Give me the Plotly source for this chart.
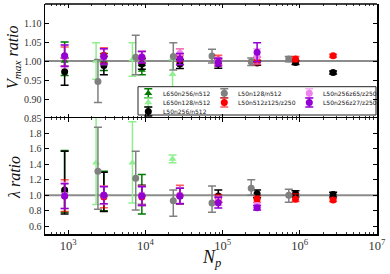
import plotly.graph_objects as go

# ---------------- data ----------------
series_names = ["L650n256/n512", "L650n128/n512", "L50n256/n512", "L50n128/n512",
                "L50n512z125/z250", "L50n256z65/z250", "L50n256z27/z250"]
series_colors = ["#007a00", "#90ee90", "#000000", "#808080", "#ff0000", "#ee82ee", "#9400d3"]
series_err_colors = ["#007a00", "#90ee90", "#000000", "#808080",
                     "rgba(255,0,0,0.65)", "rgba(238,130,238,0.65)", "#9400d3"]
series_symbols = ["triangle-up", "triangle-up", "circle", "circle", "circle", "circle", "circle"]

np_dg = [900, 2900, 9000]
vmax_dg = [1.000, 1.000, 0.976]
vmax_dg_up = [0.050, 0.020, 0.012]
vmax_dg_dn = [0.038, 0.025, 0.012]
lam_dg = [1.06, 1.00, 1.00]
lam_dg_up = [0.52, 0.31, 0.27]
lam_dg_dn = [0.28, 0.20, 0.24]

np_lg = [2300, 6800, 22500]
vmax_lg = [1.000, 1.004, 0.965]
vmax_lg_up = [0.048, 0.044, 0.038]
vmax_lg_dn = [0.048, 0.044, 0.040]
lam_lg = [1.42, 1.42, 1.47]
lam_lg_up = [0.80, 0.53, 0.05]
lam_lg_dn = [0.54, 0.52, 0.05]

np_bk = [900, 2900, 9000, 28000, 88000, 280000, 880000, 2700000]
vmax_bk = [0.972, 0.988, 0.992, 0.992, 0.993, 0.995, 0.996, 0.970]
vmax_bk_up = [0.036, 0.024, 0.014, 0.012, 0.012, 0.006, 0.005, 0.004]
vmax_bk_dn = [0.036, 0.024, 0.014, 0.012, 0.012, 0.006, 0.005, 0.004]
lam_bk = [1.07, 1.00, 1.00, 0.99, 0.99, 1.02, 1.02, 1.01]
lam_bk_up = [0.50, 0.30, 0.13, 0.10, 0.08, 0.05, 0.04, 0.03]
lam_bk_dn = [0.31, 0.21, 0.12, 0.10, 0.08, 0.05, 0.04, 0.03]

np_gy = [2430, 7500, 23000, 73000, 235000, 720000]
vmax_gy = [0.946, 1.010, 1.012, 1.013, 0.998, 1.005]
vmax_gy_up = [0.058, 0.058, 0.036, 0.018, 0.010, 0.007]
vmax_gy_dn = [0.055, 0.046, 0.036, 0.018, 0.010, 0.007]
lam_gy = [1.31, 1.22, 0.93, 0.90, 1.09, 1.00]
lam_gy_up = [0.57, 0.35, 0.14, 0.22, 0.11, 0.08]
lam_gy_dn = [0.49, 0.41, 0.20, 0.12, 0.09, 0.09]

np_rd = [900, 2900, 9000, 28000, 88000, 280000, 880000, 2700000]
vmax_rd = [1.012, 1.015, 1.010, 1.015, 1.003, 1.000, 1.005, 1.014]
vmax_rd_up = [0.025, 0.020, 0.015, 0.017, 0.012, 0.010, 0.007, 0.004]
vmax_rd_dn = [0.025, 0.020, 0.015, 0.017, 0.012, 0.010, 0.007, 0.004]
lam_rd = [0.99, 0.98, 0.98, 1.00, 0.96, 0.95, 0.95, 0.94]
lam_rd_up = [0.21, 0.14, 0.14, 0.13, 0.05, 0.04, 0.07, 0.02]
lam_rd_dn = [0.20, 0.14, 0.11, 0.11, 0.05, 0.04, 0.03, 0.02]

np_vi = [900, 2900, 9000, 28000, 88000, 280000]
vmax_vi = [1.012, 1.010, 1.012, 1.020, 1.000, 1.012]
vmax_vi_up = [0.030, 0.020, 0.015, 0.012, 0.010, 0.020]
vmax_vi_dn = [0.030, 0.020, 0.015, 0.012, 0.010, 0.020]
lam_vi = [1.00, 1.00, 1.00, 1.00, 0.93, 0.87]
lam_vi_up = [0.17, 0.12, 0.12, 0.10, 0.06, 0.03]
lam_vi_dn = [0.17, 0.12, 0.12, 0.10, 0.06, 0.03]

np_dv = [900, 2900, 9000, 28000, 88000, 280000]
vmax_dv = [1.014, 1.012, 1.010, 1.005, 0.997, 1.023]
vmax_dv_up = [0.028, 0.020, 0.015, 0.015, 0.010, 0.025]
vmax_dv_dn = [0.028, 0.020, 0.015, 0.015, 0.010, 0.025]
lam_dv = [0.99, 1.00, 0.99, 0.99, 0.905, 0.84]
lam_dv_up = [0.16, 0.11, 0.12, 0.10, 0.07, 0.03]
lam_dv_dn = [0.16, 0.11, 0.12, 0.10, 0.07, 0.03]

series_np = [np_dg, np_lg, np_bk, np_gy, np_rd, np_vi, np_dv]
series_vmax = [(vmax_dg, vmax_dg_up, vmax_dg_dn), (vmax_lg, vmax_lg_up, vmax_lg_dn),
               (vmax_bk, vmax_bk_up, vmax_bk_dn), (vmax_gy, vmax_gy_up, vmax_gy_dn),
               (vmax_rd, vmax_rd_up, vmax_rd_dn), (vmax_vi, vmax_vi_up, vmax_vi_dn),
               (vmax_dv, vmax_dv_up, vmax_dv_dn)]
series_lam = [(lam_dg, lam_dg_up, lam_dg_dn), (lam_lg, lam_lg_up, lam_lg_dn),
              (lam_bk, lam_bk_up, lam_bk_dn), (lam_gy, lam_gy_up, lam_gy_dn),
              (lam_rd, lam_rd_up, lam_rd_dn), (lam_vi, lam_vi_up, lam_vi_dn),
              (lam_dv, lam_dv_up, lam_dv_dn)]

legend_cols = [0, 0, 0, 1, 1, 2, 2]
legend_rows = [0, 1, 2, 0, 1, 0, 1]

# ---------------- layout constants (pixels) ----------------
W, H = 390, 274
L, R, T, B = 45, 13, 4, 40
pw, ph = W - L - R, H - T - B
split = 118  # boundary between panels (px from top)
upper_top, upper_bot = T, split
uh = upper_bot - upper_top

def fx(px):
    return (px - L) / pw

def fy(py):
    return (H - B - py) / ph

def ux(px):
    return (px - L) / pw

def uy(py):
    return (upper_bot - py) / uh

fig = go.Figure()

for i, name in enumerate(series_names):
    xs = series_np[i]
    v, vu, vd = series_vmax[i]
    l, lu, ld = series_lam[i]
    marker = dict(color=series_colors[i], symbol=series_symbols[i], size=7,
                  line=dict(width=0))
    fig.add_trace(go.Scatter(
        x=xs, y=v, mode="markers", marker=marker, xaxis="x2", yaxis="y2",
        error_y=dict(type="data", symmetric=False, array=vu, arrayminus=vd,
                     color=series_err_colors[i], thickness=1.5, width=4),
        showlegend=False, name=name))
    fig.add_trace(go.Scatter(
        x=xs, y=l, mode="markers", marker=marker, xaxis="x", yaxis="y",
        error_y=dict(type="data", symmetric=False, array=lu, arrayminus=ld,
                     color=series_err_colors[i], thickness=1.5, width=4),
        showlegend=False, name=name))

# ---------------- legend (manual, in overlay axes of upper panel) ----------------
box_l, box_r, box_t, box_b = 138, 376, 86.7, 115
fig.add_trace(go.Scatter(
    x=[ux(box_l), ux(box_r), ux(box_r), ux(box_l), ux(box_l)],
    y=[uy(box_t), uy(box_t), uy(box_b), uy(box_b), uy(box_t)],
    mode="lines", fill="toself", fillcolor="white",
    line=dict(color="#222222", width=1), xaxis="x3", yaxis="y3",
    showlegend=False, hoverinfo="skip"))

key_x = [148.3, 224.3, 309.3]
text_x = [160.7, 236.0, 320.7]
row_y = [93.3, 102.5, 111.5]
annotations = []
for i, name in enumerate(series_names):
    c, r = legend_cols[i], legend_rows[i]
    fig.add_trace(go.Scatter(
        x=[ux(key_x[c])], y=[uy(row_y[r])], mode="markers",
        marker=dict(color=series_colors[i], symbol=series_symbols[i], size=7),
        error_y=dict(type="constant", value=4.5 / uh, color=series_err_colors[i],
                     thickness=1.5, width=4),
        xaxis="x3", yaxis="y3", showlegend=False, hoverinfo="skip"))
    annotations.append(dict(
        x=fx(text_x[c]), y=fy(row_y[r]), xref="paper", yref="paper",
        text=name, showarrow=False, xanchor="left", yanchor="middle",
        font=dict(family="DejaVu Sans", size=6, color="#111111")))

# axis titles
annotations.append(dict(x=fx(13), y=fy(57), xref="paper", yref="paper",
                        text="<i>V<sub>max</sub> ratio</i>", showarrow=False,
                        textangle=-90, xanchor="center", yanchor="middle",
                        font=dict(family="Liberation Serif", size=16, color="#111111")))
annotations.append(dict(x=fx(14), y=fy(178), xref="paper", yref="paper",
                        text="<i>λ ratio</i>", showarrow=False,
                        textangle=-90, xanchor="center", yanchor="middle",
                        font=dict(family="Liberation Serif", size=16, color="#111111")))
annotations.append(dict(x=fx(211), y=fy(258), xref="paper", yref="paper",
                        text="<i>N<sub>p</sub></i>", showarrow=False,
                        xanchor="center", yanchor="middle",
                        font=dict(family="Liberation Serif", size=18, color="#111111")))

split_frac = fy(split)
tickfont = dict(family="Liberation Serif", size=10, color="#333333")
common_x = dict(type="log", range=[2.7, 7], dtick=1, exponentformat="power",
                showexponent="all", ticks="inside", ticklen=4, tickwidth=1,
                tickcolor="black", mirror="allticks", linecolor="black",
                linewidth=1.5, showgrid=False, zeroline=False, tickfont=tickfont,
                automargin=False,
                minor=dict(ticks="inside", ticklen=2, tickwidth=0.8, tickcolor="black",
                           showgrid=False))
common_y = dict(ticks="inside", ticklen=4, tickwidth=1, tickcolor="black",
                mirror="allticks", showline=True, linecolor="black", linewidth=1.5,
                showgrid=False, zeroline=False, tickfont=tickfont, automargin=False)

fig.update_layout(
    width=W, height=H,
    margin=dict(l=L, r=R, t=T, b=B),
    paper_bgcolor="white", plot_bgcolor="white",
    showlegend=False,
    xaxis=dict(domain=[0, 1], anchor="y", showline=True, **common_x),
    xaxis2=dict(domain=[0, 1], anchor="y2", matches="x", showticklabels=False,
                showline=False, **common_x),
    yaxis=dict(domain=[0, split_frac], anchor="x", range=[0.5, 2.0],
               tickvals=[0.6, 0.8, 1.0, 1.2, 1.4, 1.6, 1.8], tickformat=".1f", **common_y),
    yaxis2=dict(domain=[split_frac, 1], anchor="x2", range=[0.85, 1.15],
                tickvals=[0.85, 0.90, 0.95, 1.00, 1.05, 1.10], tickformat=".2f", **common_y),
    xaxis3=dict(overlaying="x2", range=[0, 1], visible=False, anchor="y3"),
    yaxis3=dict(overlaying="y2", range=[0, 1], visible=False, anchor="x3"),
    shapes=[
        dict(type="line", xref="paper", yref="y2", x0=0, x1=1, y0=1, y1=1,
             line=dict(color="#8c8c8c", width=2), layer="below"),
        dict(type="line", xref="paper", yref="y", x0=0, x1=1, y0=1, y1=1,
             line=dict(color="#8c8c8c", width=2), layer="below"),
        # top border of the upper panel
        dict(type="line", xref="paper", yref="paper", x0=0, x1=1, y0=1, y1=1,
             line=dict(color="black", width=1.5), layer="above"),
    ],
    annotations=annotations,
)

fig.write_html("out.html", config={"displayModeBar": False, "staticPlot": True})
with open("out.html", "r", encoding="utf-8") as f:
    html = f.read()
html = html.replace("<body>", '<body style="margin:0;padding:0;overflow:hidden">', 1)
html = html.replace("<head>", '<head><style>html,body{margin:0;padding:0;}</style>', 1)
with open("out.html", "w", encoding="utf-8") as f:
    f.write(html)
